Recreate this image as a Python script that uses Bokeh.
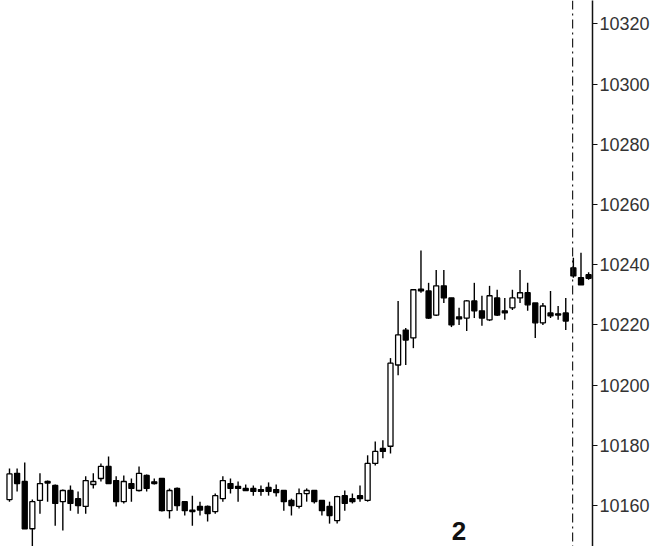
from bokeh.plotting import figure
from bokeh.models import ColumnDataSource, FixedTicker, Span, Label
from bokeh.embed import file_html
from bokeh.resources import INLINE

# OHLC values (one candle per bar, left to right)
opens = [10162.0, 10170.7, 10168.0, 10152.3, 10161.7, 10168.0, 10166.7, 10161.3, 10165.0, 10162.3,
         10159.7, 10167.0, 10169.0, 10173.0, 10168.3, 10161.3, 10167.3, 10165.0, 10170.0, 10167.5,
         10169.0, 10158.3, 10165.7, 10161.3, 10158.5, 10159.7, 10159.7, 10158.0, 10162.3, 10167.3,
         10166.0, 10165.7, 10165.7, 10165.3, 10166.0, 10165.3, 10165.0, 10161.7, 10159.7, 10164.0,
         10165.0, 10161.7, 10159.7, 10155.0, 10163.3, 10162.3, 10163.3, 10161.7, 10174.0, 10179.0,
         10179.7, 10206.7, 10218.3, 10215.7, 10231.5, 10231.3, 10223.3, 10233.0, 10229.0, 10222.7,
         10222.3, 10228.0, 10224.7, 10221.7, 10229.0, 10224.7, 10225.7, 10229.0, 10230.7, 10227.3,
         10220.7, 10224.0, 10223.7, 10224.0, 10239.0, 10235.7, 10236.7]
highs = [10172.3, 10172.3, 10174.3, 10162.0, 10170.7, 10168.3, 10167.0, 10165.3, 10166.7, 10164.7,
         10169.7, 10170.7, 10174.0, 10176.3, 10169.7, 10170.0, 10169.0, 10173.0, 10170.3, 10169.0,
         10169.0, 10165.7, 10166.0, 10161.3, 10163.3, 10161.3, 10160.0, 10164.0, 10169.7, 10169.0,
         10168.0, 10167.0, 10166.7, 10166.7, 10167.7, 10167.0, 10165.0, 10162.3, 10165.7, 10165.7,
         10165.0, 10161.7, 10161.3, 10163.3, 10165.0, 10164.0, 10166.7, 10176.7, 10181.3, 10181.7,
         10209.0, 10228.0, 10219.0, 10231.7, 10244.7, 10234.0, 10238.3, 10238.3, 10229.0, 10225.7,
         10228.3, 10234.0, 10229.7, 10233.0, 10231.7, 10229.0, 10231.7, 10238.3, 10234.0, 10227.3,
         10227.3, 10231.3, 10226.3, 10229.0, 10242.3, 10244.0, 10237.5]
lows = [10161.3, 10164.7, 10152.3, 10146.0, 10157.3, 10161.3, 10153.3, 10151.7, 10158.3, 10157.3,
        10157.3, 10165.7, 10168.0, 10167.3, 10159.7, 10160.7, 10161.3, 10164.7, 10164.7, 10167.0,
        10158.0, 10155.7, 10158.3, 10156.7, 10153.3, 10156.7, 10154.7, 10157.3, 10161.3, 10164.0,
        10161.3, 10165.0, 10163.3, 10163.3, 10163.3, 10163.0, 10158.3, 10156.7, 10159.0, 10161.3,
        10160.7, 10156.7, 10154.0, 10154.0, 10158.3, 10160.7, 10161.3, 10161.3, 10173.3, 10175.7,
        10177.3, 10203.3, 10206.7, 10212.3, 10230.7, 10222.0, 10223.0, 10227.3, 10219.3, 10220.0,
        10218.0, 10222.3, 10219.7, 10221.3, 10223.0, 10221.7, 10225.0, 10227.3, 10224.7, 10215.7,
        10220.0, 10222.3, 10221.7, 10218.3, 10235.7, 10233.3, 10235.0]
closes = [10170.5, 10167.3, 10152.3, 10161.3, 10167.3, 10167.5, 10160.7, 10165.0, 10160.7, 10160.0,
          10168.3, 10168.0, 10173.0, 10167.3, 10161.3, 10168.0, 10165.7, 10170.7, 10165.7, 10167.3,
          10158.3, 10165.0, 10160.0, 10158.3, 10158.0, 10158.5, 10157.3, 10163.3, 10168.3, 10165.7,
          10165.7, 10165.0, 10164.7, 10164.7, 10164.7, 10164.3, 10161.3, 10160.0, 10164.0, 10165.0,
          10161.3, 10158.3, 10156.7, 10163.0, 10160.7, 10161.3, 10162.3, 10174.0, 10178.0, 10178.0,
          10207.3, 10216.7, 10215.0, 10231.7, 10231.3, 10222.3, 10233.0, 10229.0, 10220.0, 10222.0,
          10228.0, 10224.7, 10222.3, 10229.7, 10223.3, 10224.0, 10229.0, 10230.7, 10226.7, 10220.7,
          10226.3, 10223.0, 10223.3, 10221.3, 10236.3, 10233.3, 10235.5]
price_ticks = [10160, 10180, 10200, 10220, 10240, 10260, 10280, 10300, 10320]
session_break = 73.9
marker_text = "2"

idx = list(range(len(opens)))
up = [c >= o for o, c in zip(opens, closes)]
src = ColumnDataSource(dict(
    x=idx, high=highs, low=lows,
    top=[max(o, c) if abs(o - c) > 0.4 else max(o, c) + 0.4 for o, c in zip(opens, closes)],
    bottom=[min(o, c) for o, c in zip(opens, closes)],
    fill=["white" if u else "black" for u in up],
))

p = figure(frame_width=592, frame_height=546, output_backend="svg", toolbar_location=None,
           x_range=(-1.18, 76.51), y_range=(10146.4, 10327.8),
           x_axis_location=None, y_axis_location="right",
           min_border_left=0, min_border_top=0, min_border_bottom=0, min_border_right=0)
p.outline_line_color = None
p.xgrid.visible = False
p.ygrid.visible = False
p.background_fill_color = "white"

p.segment(x0="x", y0="low", x1="x", y1="high", source=src, line_color="black", line_width=1.4)
p.vbar(x="x", width=0.66, top="top", bottom="bottom", source=src,
       fill_color="fill", line_color="black", line_width=1.3)

p.add_layout(Span(location=session_break, dimension="height", line_color="#222222",
                  line_width=1.2, line_dash="9 4 2 4"))
p.add_layout(Label(x=59.0, y=10148.6, text=marker_text, text_font="Liberation Sans",
                   text_font_style="bold", text_font_size="26px", text_align="center",
                   text_baseline="bottom", text_color="#111111"))

ax = p.yaxis[0]
ax.ticker = FixedTicker(ticks=price_ticks)
ax.major_label_text_font = "Liberation Sans"
ax.major_label_text_font_size = "18px"
ax.major_label_text_color = "#333333"
ax.axis_line_color = "#111111"
ax.axis_line_width = 1.5
ax.major_tick_line_color = "#111111"
ax.major_tick_out = 5
ax.major_tick_in = 0
ax.minor_tick_line_color = None
ax.major_label_standoff = 2

open("out.html", "w").write(file_html(p, INLINE))
